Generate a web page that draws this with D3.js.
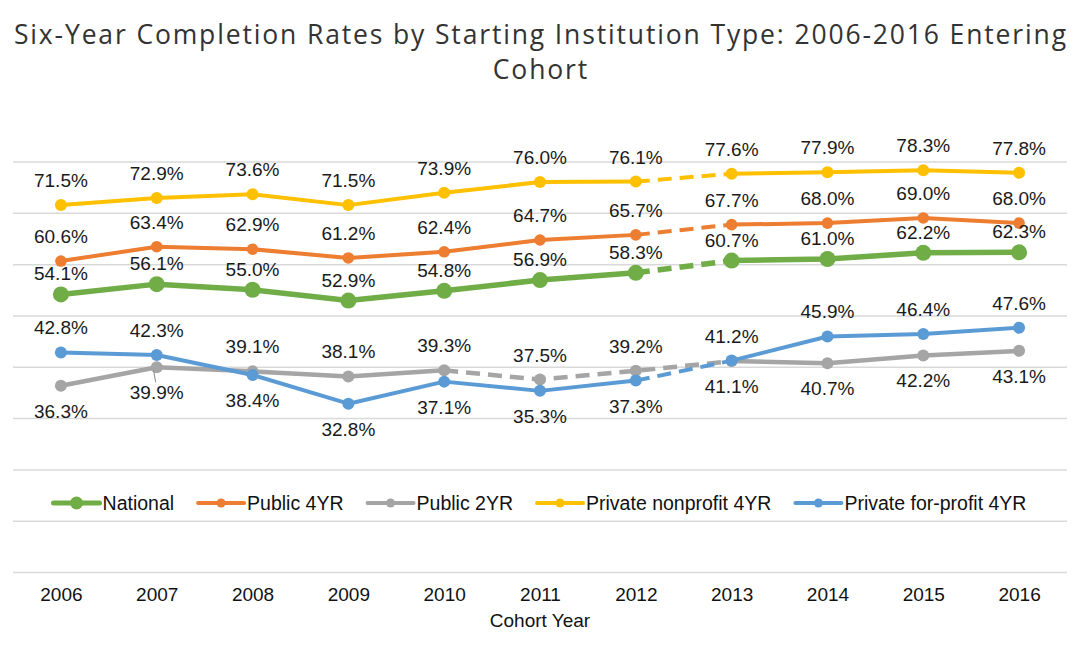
<!DOCTYPE html>
<html>
<head>
<meta charset="utf-8">
<script src="https://cdn.jsdelivr.net/npm/d3@7"></script>
<style>
  html, body { margin: 0; padding: 0; background: #fff; }
  svg { display: block; }
</style>
</head>
<body>
<svg id="chart" width="1080" height="652"></svg>
<script>
// ---------- DATA ----------
const years = ["2006","2007","2008","2009","2010","2011","2012","2013","2014","2015","2016"];
const seriesNames = ["National","Public 4YR","Public 2YR","Private nonprofit 4YR","Private for-profit 4YR"];
const national   = [54.1,56.1,55.0,52.9,54.8,56.9,58.3,60.7,61.0,62.2,62.3];
const public4yr  = [60.6,63.4,62.9,61.2,62.4,64.7,65.7,67.7,68.0,69.0,68.0];
const public2yr  = [36.3,39.9,39.1,38.1,39.3,37.5,39.2,41.1,40.7,42.2,43.1];
const privateNP  = [71.5,72.9,73.6,71.5,73.9,76.0,76.1,77.6,77.9,78.3,77.8];
const privateFP  = [42.8,42.3,38.4,32.8,37.1,35.3,37.3,41.2,45.9,46.4,47.6];
const yTicks = [0,10,20,30,40,50,60,70,80];
// dashed segments (index i = segment from year i to year i+1)
const dashedNational = [6], dashedPublic4 = [6], dashedPublic2 = [4,5,6], dashedPrivNP = [6], dashedPrivFP = [6];
// label side: a = above, b = below
const sideNational = "aaaaaaaaaaa".split("");
const sidePublic4  = "aaaaaaaaaaa".split("");
const sidePublic2  = "bbaaaaabbbb".split("");
const sidePrivNP   = "aaaaaaaaaaa".split("");
const sidePrivFP   = "aabbbbbaaaa".split("");

(function () {
// ---------- STYLE ----------
const colors = ["#70AD47","#ED7D31","#A5A5A5","#FFC000","#5B9BD5"];
const lineW  = [5.5, 4, 4.5, 4, 4];
const markR  = [8, 5.8, 6, 6, 6];
const legR   = [6.5, 4.5, 4.5, 4.5, 4.5];

const series = [
  {name: seriesNames[0], values: national,  dashed: dashedNational, side: sideNational},
  {name: seriesNames[1], values: public4yr, dashed: dashedPublic4,  side: sidePublic4},
  {name: seriesNames[2], values: public2yr, dashed: dashedPublic2,  side: sidePublic2},
  {name: seriesNames[3], values: privateNP, dashed: dashedPrivNP,   side: sidePrivNP},
  {name: seriesNames[4], values: privateFP, dashed: dashedPrivFP,   side: sidePrivFP}
];

const svg = d3.select("#chart");
const plotL = 13, plotR = 1067, plotT = 161.5, plotB = 572;

const x = d3.scalePoint().domain(years).range([plotL, plotR]).padding(0.5);
const y = d3.scaleLinear().domain([0, 80]).range([plotB, plotT]);

const labelFont = "'Liberation Sans', Arial, sans-serif";
const titleFont = "'Open Sans', 'Noto Sans', sans-serif";

// ---------- TITLE ----------
const titleSize = 26.5;
const titleLine1 = "Six-Year Completion Rates by Starting Institution Type: 2006-2016 Entering";
const t1 = svg.append("text")
  .attr("x", 540).attr("y", 44)
  .attr("text-anchor", "middle")
  .attr("font-family", titleFont)
  .attr("font-size", titleSize)
  .attr("fill", "#333")
  .text(titleLine1);
const w1 = t1.node().getComputedTextLength();
const ls = (1054 - w1) / titleLine1.length;
t1.attr("letter-spacing", ls).attr("x", 540 + ls / 2);
svg.append("text")
  .attr("x", 540 + ls / 2).attr("y", 79)
  .attr("text-anchor", "middle")
  .attr("font-family", titleFont)
  .attr("font-size", titleSize)
  .attr("letter-spacing", ls)
  .attr("fill", "#333")
  .text("Cohort");

// ---------- GRID ----------
const yAxis = d3.axisLeft(y).tickValues(yTicks).tickSize(-(plotR - plotL)).tickFormat("");
const gy = svg.append("g").attr("transform", `translate(${plotL},0)`).call(yAxis);
gy.select(".domain").remove();
gy.selectAll(".tick line").attr("stroke", "#D9D9D9").attr("stroke-width", 1.5);

// ---------- X AXIS ----------
const xAxis = d3.axisBottom(x).tickSize(0).tickPadding(0);
const gx = svg.append("g").attr("transform", `translate(0,${plotB})`).call(xAxis);
gx.select(".domain").remove();
gx.selectAll(".tick text")
  .attr("font-family", labelFont).attr("font-size", 19).attr("fill", "#111")
  .attr("dy", null).attr("y", 29);

svg.append("text")
  .attr("x", 540).attr("y", 627)
  .attr("text-anchor", "middle")
  .attr("font-family", labelFont).attr("font-size", 19).attr("fill", "#111")
  .text("Cohort Year");

// ---------- LINES ----------
const line = d3.line().x(d => x(d.year)).y(d => y(d.v));
const linesG = svg.append("g");
series.forEach((s, si) => {
  const pts = s.values.map((v, i) => ({year: years[i], v}));
  let runs = [];
  for (let i = 0; i < pts.length - 1; i++) {
    const dashed = s.dashed.includes(i);
    const last = runs[runs.length - 1];
    if (last && last.dashed === dashed) last.pts.push(pts[i + 1]);
    else runs.push({dashed, pts: [pts[i], pts[i + 1]]});
  }
  const g = linesG.append("g");
  runs.forEach(r => {
    g.append("path")
      .attr("d", line(r.pts))
      .attr("fill", "none")
      .attr("stroke", colors[si])
      .attr("stroke-width", lineW[si])
      .attr("stroke-linejoin", "round")
      .attr("stroke-linecap", r.dashed ? "butt" : "round")
      .attr("stroke-dasharray", r.dashed ? "14,8" : null);
  });
  g.selectAll("circle").data(pts).join("circle")
    .attr("cx", d => x(d.year)).attr("cy", d => y(d.v))
    .attr("r", markR[si]).attr("fill", colors[si]);
});

// small leader line for the displaced Public 2YR 2007 label
const p07 = {x: x(years[1]), y: y(public2yr[1])};
svg.append("path")
  .attr("d", `M${p07.x - 3},${p07.y + 4} L${p07.x - 1},${p07.y + 15}`)
  .attr("stroke", "#888").attr("stroke-width", 1).attr("fill", "none");

// ---------- DATA LABELS ----------
const labelsG = svg.append("g");
series.forEach((s, si) => {
  labelsG.selectAll(null).data(s.values).join("text")
    .attr("x", (v, i) => x(years[i]))
    .attr("y", (v, i) => y(v) + (s.side[i] === "a" ? (si === 0 ? -14 : -18) : 32))
    .attr("text-anchor", "middle")
    .attr("font-family", labelFont).attr("font-size", 19).attr("fill", "#1a1a1a")
    .text(v => v.toFixed(1) + "%");
});

// ---------- LEGEND ----------
const legG = svg.append("g");
const symW = 46, symGap = 3, itemGap = 24, legY = 503;
const items = [];
series.forEach((s, si) => {
  const g = legG.append("g");
  g.append("line").attr("x1", 0).attr("x2", symW).attr("y1", 0).attr("y2", 0)
    .attr("stroke", colors[si]).attr("stroke-width", si === 0 ? 5 : 4).attr("stroke-linecap", "round");
  g.append("circle").attr("cx", symW / 2).attr("cy", 0).attr("r", legR[si]).attr("fill", colors[si]);
  const t = g.append("text").attr("x", symW + symGap).attr("y", 7)
    .attr("font-family", labelFont).attr("font-size", 19.5).attr("fill", "#111")
    .text(s.name);
  const w = symW + symGap + t.node().getComputedTextLength();
  items.push({g, w});
});
const totalW = d3.sum(items, d => d.w) + itemGap * (items.length - 1);
let lx = 540 - totalW / 2;
items.forEach(it => {
  it.g.attr("transform", `translate(${lx},${legY})`);
  lx += it.w + itemGap;
});
})();
</script>
</body>
</html>
